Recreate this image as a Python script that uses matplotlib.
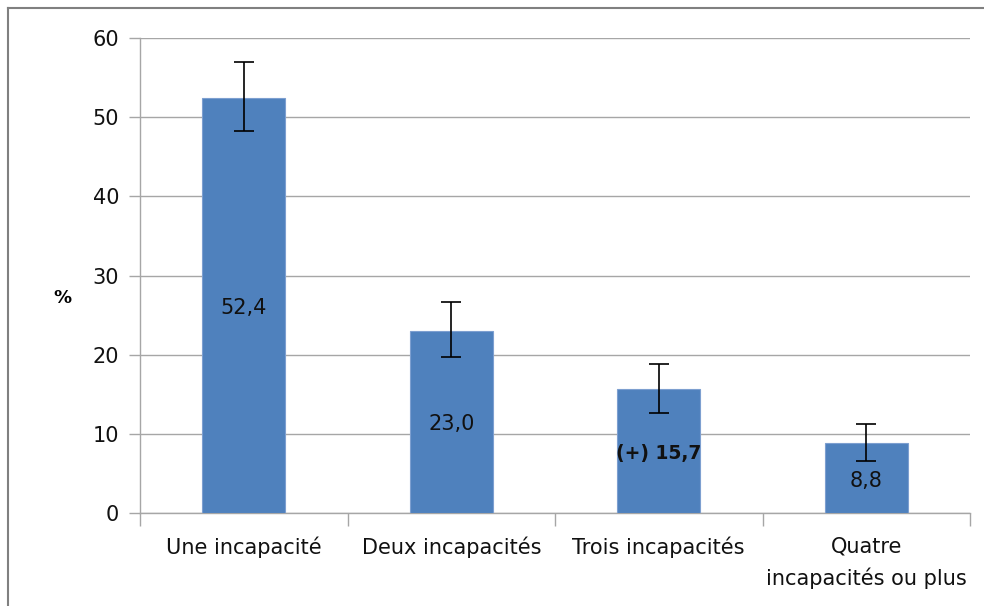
import numpy as np
import matplotlib.pyplot as plt
from matplotlib.lines import Line2D

plt.rcParams['font.family'] = ['DejaVu Sans']

# data
categories = ['Une incapacité', 'Deux incapacités', 'Trois incapacités', 'Quatre\nincapacités ou plus']
values = [52.4, 23.0, 15.7, 8.8]
err_low = [48.2, 19.7, 12.6, 6.6]
err_high = [57.0, 26.6, 18.8, 11.2]
value_labels = ['52,4', '23,0', '(+) 15,7', '8,8']
bold_labels = [False, False, True, False]

fig = plt.figure(figsize=(9.84, 6.06), dpi=100)
ax = fig.add_axes([140/984, 1-513/606, 830/984, 475/606])

x = np.arange(len(categories))
yerr = [np.array(values) - np.array(err_low), np.array(err_high) - np.array(values)]
bars = ax.bar(x, values, width=0.4, color='#4f81bd', edgecolor='#7d9fd0', linewidth=0.8, zorder=3)
ax.errorbar(x, values, yerr=yerr, fmt='none', ecolor='black', elinewidth=1.2,
            capsize=7, capthick=1.2, zorder=4)

for i, b in enumerate(bars):
    ax.text(b.get_x() + b.get_width()/2, values[i]/2 - 0.3, value_labels[i],
            ha='center', va='center', fontsize=15 if not bold_labels[i] else 13.5, color='#111111',
            fontweight='bold' if bold_labels[i] else 'normal', zorder=5)

ax.set_xlim(-0.5, len(categories) - 0.5)
ax.set_ylim(0, 60)
ax.set_yticks(np.arange(0, 61, 10))
ax.yaxis.grid(True, color='#a6a6a6', linewidth=1.0, zorder=0)
ax.set_axisbelow(True)

ax.set_xticks(x)
ax.set_xticklabels(categories, fontsize=15, linespacing=1.6)
ax.tick_params(axis='x', length=0, pad=17, labelcolor='#111111')
ax.set_xticks(np.arange(-0.5, len(categories), 1), minor=True)
ax.tick_params(axis='x', which='minor', length=9, color='#a6a6a6', width=1.0)
ax.tick_params(axis='y', length=8, color='#a6a6a6', width=1.0, labelsize=15, pad=7, labelcolor='#111111')

for s in ['top', 'right']:
    ax.spines[s].set_visible(False)
for s in ['left', 'bottom']:
    ax.spines[s].set_color('#a6a6a6')
    ax.spines[s].set_linewidth(1.0)

fig.text(62/984, 1-298/606, '%', fontsize=13, fontweight='bold', ha='center', va='center')

# frame around the figure (left and top)
fig.add_artist(Line2D([8/984, 8/984], [0, 1-8/606], transform=fig.transFigure, color='#808080', linewidth=1.5))
fig.add_artist(Line2D([8/984, 1], [1-8/606, 1-8/606], transform=fig.transFigure, color='#808080', linewidth=1.5))

plt.savefig('out.png', dpi=100)
